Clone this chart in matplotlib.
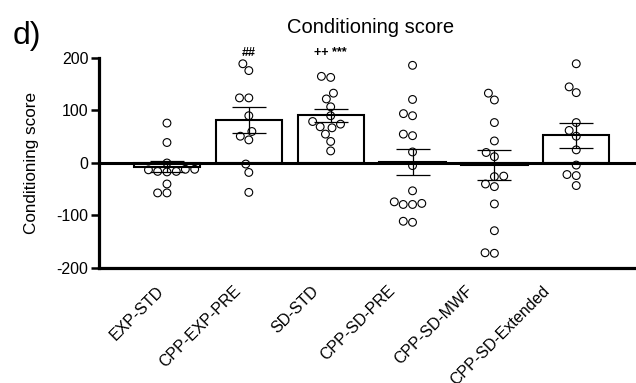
import numpy as np
import matplotlib.pyplot as plt
import seaborn as sns
import pandas as pd

# 字体
plt.rcParams['font.family'] = ['Liberation Sans', 'DejaVu Sans']
plt.rcParams['axes.unicode_minus'] = False

# 分组
groups = ['EXP-STD', 'CPP-EXP-PRE', 'SD-STD', 'CPP-SD-PRE', 'CPP-SD-MWF', 'CPP-SD-Extended']

# 各组的单个数据点
exp_std = [76, 39, -16, -17, -16, 0, -12, -12, -13, -40, -57, -57]
cpp_exp_pre = [176, 189, 124, 124, 90, 51, 44, 60, -2, -18, -56]
sd_std = [163, 165, 133, 122, 107, 90, 79, 74, 69, 67, 55, 41, 23]
cpp_sd_pre = [186, 121, 90, 94, 52, 55, 21, -5, -53, -77, -79, -79, -74, -111, -113]
cpp_sd_mwf = [133, 120, 77, 42, 20, 12, -25, -26, -45, -40, -78, -129, -171, -172]
cpp_sd_ext = [189, 145, 134, 77, 62, 51, 25, -4, -22, -24, -43]

# 均值和标准误
means = [-7, 82, 91, 2.5, -3.5, 53]
sems = [10, 24, 12, 24.5, 28.5, 24]

# 显著性标记
marks = ['', '##', '++ ***', '', '', '']

all_values = [exp_std, cpp_exp_pre, sd_std, cpp_sd_pre, cpp_sd_mwf, cpp_sd_ext]
df = pd.DataFrame({
    'group': [g for g, v in zip(groups, all_values) for _ in v],
    'score': [x for v in all_values for x in v],
})

fig = plt.figure(figsize=(6.36, 3.83), dpi=100)
ax = fig.add_axes([0.1557, 0.3003, 0.8443, 0.5483])

x = np.arange(len(groups))
ax.bar(x, means, width=0.81, color='white', edgecolor='black', linewidth=1.5, zorder=2)
ax.axhline(0, color='black', linewidth=2.2, zorder=2.5)

sns.swarmplot(data=df, x='group', y='score', order=groups, ax=ax, size=5.6,
              color='white', zorder=3)
for coll in ax.collections:
    coll.set_facecolor('none')
    coll.set_edgecolor('black')
    coll.set_linewidth(0.8)

ax.errorbar(x, means, yerr=sems, fmt='none', ecolor='black', elinewidth=0.9,
            capsize=12, capthick=0.9, zorder=4)

for xi, m in zip(x, marks):
    if m:
        ax.text(xi, 210, m, ha='center', va='center', fontsize=9, fontweight='bold',
                clip_on=False)

ax.set_xlim(-0.83, 5.73)
ax.set_ylim(-200, 200)
ax.set_yticks([-200, -100, 0, 100, 200])
# 标签间距比柱子略窄
ax.set_xticks(x * 0.944 - 0.134)
ax.set_xticklabels(groups, rotation=45, ha='right', rotation_mode='anchor', fontsize=11.5)
ax.tick_params(axis='x', length=0, pad=11)
ax.tick_params(axis='y', length=5.5, width=1.8, labelsize=11.5, pad=2)
ax.set_xlabel('')
ax.set_ylabel('Conditioning score', fontsize=12.3, labelpad=13)
ax.set_title('Conditioning score', fontsize=14.5, pad=18, x=0.505)

for s in ['top', 'right']:
    ax.spines[s].set_visible(False)
for s in ['left', 'bottom']:
    ax.spines[s].set_linewidth(2.3)

fig.text(0.02, 0.885, 'd)', fontsize=23)

fig.savefig('out.png', dpi=100)
